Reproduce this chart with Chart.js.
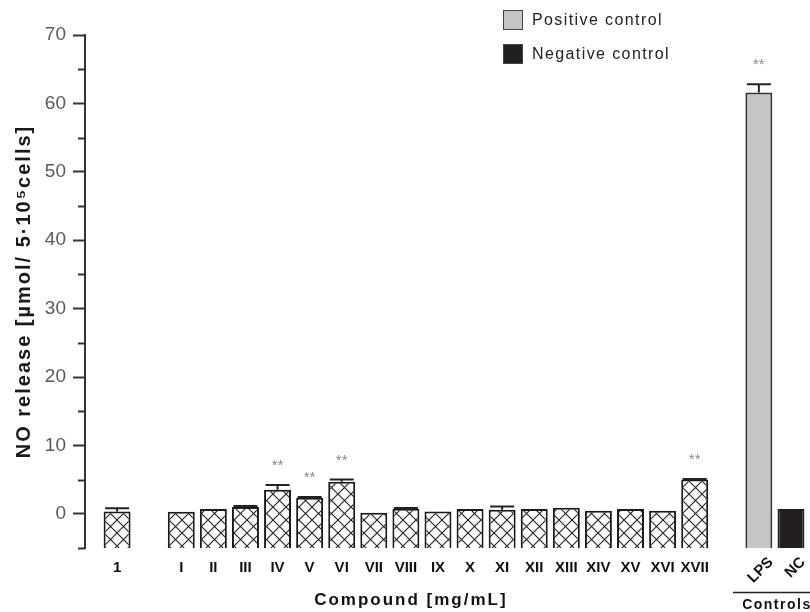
<!DOCTYPE html>
<html>
<head>
<meta charset="utf-8">
<script src="https://cdn.jsdelivr.net/npm/chart.js@4.4.1/dist/chart.umd.min.js"></script>
<style>
  body { margin: 0; background: #fff; font-family: "Liberation Sans", Arial, sans-serif; }
  #wrap { position: relative; width: 810px; height: 612px; }
  .leg { position: absolute; left: 503px; display: flex; align-items: center; font-size: 16px; letter-spacing: 1.4px; color: #222; }
  .leg i { display: inline-block; width: 20px; height: 20px; margin-right: 9px; box-sizing: border-box; border: 1.5px solid #444; }
</style>
</head>
<body>
<div id="wrap">
  <canvas id="chart"></canvas>
  <div class="leg" style="top:10px"><i style="background:#c6c6c6"></i>Positive control</div>
  <div class="leg" style="top:44px"><i style="background:#231f20"></i>Negative control</div>
</div>
<script>
// category slots along x (null = empty gap slot)
const slots = ['1', null, 'I', 'II', 'III', 'IV', 'V', 'VI', 'VII', 'VIII', 'IX', 'X',
  'XI', 'XII', 'XIII', 'XIV', 'XV', 'XVI', 'XVII', null, 'LPS', 'NC'];

const compoundLabels = ['1', 'I', 'II', 'III', 'IV', 'V', 'VI', 'VII', 'VIII', 'IX', 'X',
  'XI', 'XII', 'XIII', 'XIV', 'XV', 'XVI', 'XVII'];
const compoundValues = [0.35, 0.3, 0.7, 1.0, 3.5, 2.35, 4.7, 0.15, 0.75, 0.33, 0.7,
  0.6, 0.7, 0.9, 0.45, 0.7, 0.45, 5.0];
const compoundErrors = [0.45, 0, 0, 0.15, 0.7, 0.1, 0.3, 0, 0.1, 0, 0,
  0.45, 0, 0, 0, 0, 0, 0.1];

const controlLabels = ['LPS', 'NC'];
const controlValues = [61.6, 0.7];
const controlErrors = [1.2, 0];

const significant = ['IV', 'V', 'VI', 'XVII', 'LPS'];
const yMajorTicks = [0, 10, 20, 30, 40, 50, 60, 70];
const yTitle = 'NO release [µmol/ 5·10⁵cells]';

function hatch() {
  const c = document.createElement('canvas');
  c.width = 13; c.height = 13;
  const g = c.getContext('2d');
  g.fillStyle = '#fff';
  g.fillRect(0, 0, 13, 13);
  g.strokeStyle = '#222';
  g.lineWidth = 1.1;
  g.beginPath();
  g.moveTo(-1, -1); g.lineTo(14, 14);
  g.moveTo(14, -1); g.lineTo(-1, 14);
  g.stroke();
  return g.createPattern(c, 'repeat');
}

const pos = l => slots.indexOf(l);

const extras = {
  id: 'extras',
  afterDatasetsDraw(chart) {
    const { ctx, scales: { x, y } } = chart;
    ctx.save();

    // minor y ticks
    ctx.strokeStyle = '#333';
    ctx.lineWidth = 2;
    for (let v = -5; v <= 70; v += 10) {
      const py = Math.round(y.getPixelForValue(v)) + 0.5;
      ctx.beginPath();
      ctx.moveTo(x.left - 7, py);
      ctx.lineTo(x.left, py);
      ctx.stroke();
    }

    // error bars (upper half only)
    const err = compoundLabels.map((l, i) => [l, compoundValues[i], compoundErrors[i]])
      .concat(controlLabels.map((l, i) => [l, controlValues[i], controlErrors[i]]));
    ctx.strokeStyle = '#222';
    ctx.lineWidth = 2;
    err.forEach(([l, v, e]) => {
      if (!e) return;
      const px = x.getPixelForValue(pos(l));
      const top = y.getPixelForValue(v + e);
      ctx.beginPath();
      ctx.moveTo(px, y.getPixelForValue(v));
      ctx.lineTo(px, top);
      ctx.moveTo(px - 12, top);
      ctx.lineTo(px + 12, top);
      ctx.stroke();
    });

    // significance marks
    ctx.fillStyle = '#8a8a8a';
    ctx.font = '15px "Liberation Sans"';
    ctx.textAlign = 'center';
    ctx.textBaseline = 'middle';
    err.forEach(([l, v, e]) => {
      if (!significant.includes(l)) return;
      ctx.fillText('**', x.getPixelForValue(pos(l)), y.getPixelForValue(v + e) - 19);
    });

    // y title, spaced out like the original
    ctx.fillStyle = '#1a1a1a';
    ctx.save();
    ctx.translate(24, (y.top + y.bottom) / 2);
    ctx.rotate(-Math.PI / 2);
    ctx.font = 'bold 20px "Liberation Sans"';
    ctx.letterSpacing = '2px';
    ctx.fillText(yTitle, 0, 0);
    ctx.restore();

    // rotated control labels
    ctx.fillStyle = '#111';
    ctx.font = 'bold 15px "Liberation Sans"';
    ctx.textAlign = 'right';
    controlLabels.forEach(l => {
      ctx.save();
      ctx.translate(x.getPixelForValue(pos(l)) + 12, y.bottom + 12);
      ctx.rotate(-Math.PI / 4);
      ctx.fillText(l, 0, 0);
      ctx.restore();
    });

    // axis titles on the bottom
    ctx.textAlign = 'center';
    ctx.font = 'bold 17px "Liberation Sans"';
    ctx.letterSpacing = '2px';
    ctx.fillText('Compound [mg/mL]', (x.getPixelForValue(0) + x.getPixelForValue(18)) / 2 + 5, 600);

    const cx = (x.getPixelForValue(pos('LPS')) + x.getPixelForValue(pos('NC'))) / 2;
    ctx.font = 'bold 14px "Liberation Sans"';
    ctx.letterSpacing = '1.5px';
    ctx.fillText('Controls', cx + 2, 605);
    ctx.letterSpacing = '0px';
    ctx.lineWidth = 1.5;
    ctx.beginPath();
    ctx.moveTo(cx - 42, 592.5);
    ctx.lineTo(cx + 42, 592.5);
    ctx.stroke();

    ctx.restore();
  }
};

new Chart(document.getElementById('chart'), {
  type: 'bar',
  data: {
    datasets: [
      {
        label: 'Compounds',
        data: compoundLabels.map((l, i) => ({ x: pos(l), y: compoundValues[i] })),
        backgroundColor: hatch(),
        borderColor: '#1a1a1a',
        borderWidth: 2,
      },
      {
        label: 'Positive control',
        data: [{ x: pos('LPS'), y: controlValues[0] }],
        backgroundColor: '#c6c6c6',
        borderColor: '#333',
        borderWidth: 2,
      },
      {
        label: 'Negative control',
        data: [{ x: pos('NC'), y: controlValues[1] }],
        backgroundColor: '#231f20',
        borderColor: '#231f20',
        borderWidth: 2,
      },
    ],
  },
  options: {
    responsive: true,
    maintainAspectRatio: false,
    animation: false,
    grouped: false,
    base: -5,
    barPercentage: 0.84,
    categoryPercentage: 1,
    layout: { padding: { top: 35, right: 3, left: 0, bottom: 0 } },
    plugins: { legend: { display: false }, tooltip: { enabled: false } },
    scales: {
      x: {
        type: 'linear',
        min: -1,
        max: 21.5,
        offset: false,
        grid: { display: false, offset: false },
        border: { display: false },
        afterBuildTicks: s => { s.ticks = compoundLabels.map(l => ({ value: pos(l) })); },
        afterFit: s => { s.height = 64; },
        ticks: {
          autoSkip: false,
          maxRotation: 0,
          padding: 3,
          color: '#111',
          font: { family: 'Liberation Sans', size: 15, weight: 'bold' },
          callback: v => slots[v] || '',
        },
      },
      y: {
        min: -5,
        max: 70,
        afterBuildTicks: s => { s.ticks = yMajorTicks.map(v => ({ value: v })); },
        afterFit: s => { s.width = 85; },
        border: { display: true, color: '#333', width: 2 },
        grid: { drawOnChartArea: false, tickLength: 12, tickColor: '#333', tickWidth: 2 },
        ticks: {
          padding: 7,
          color: '#5a5a5a',
          font: { family: 'Liberation Sans', size: 19 },
        },
      },
    },
  },
  plugins: [extras],
});
</script>
</body>
</html>
